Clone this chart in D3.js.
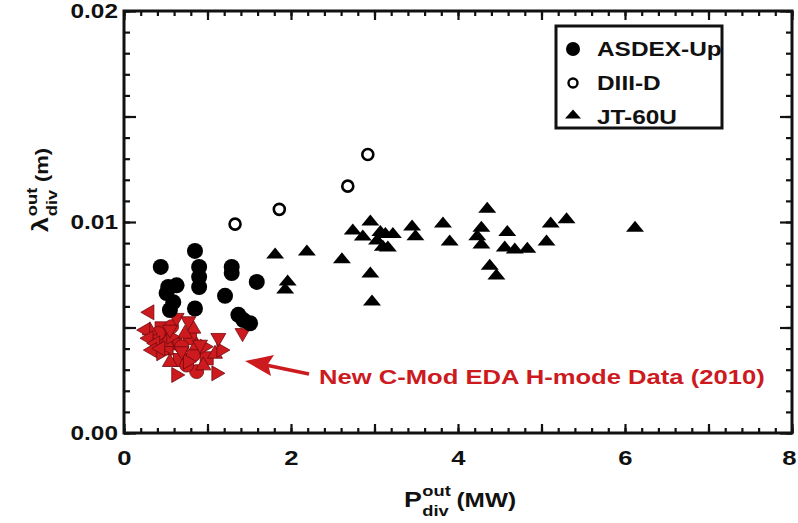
<!DOCTYPE html>
<html>
<head>
<meta charset="utf-8">
<script src="https://cdn.jsdelivr.net/npm/d3@7/dist/d3.min.js"></script>
<style>
  body { margin: 0; background: #fff; }
  text { font-family: "Liberation Sans", Arial, sans-serif; font-weight: bold; fill: #111; }
</style>
</head>
<body>
<svg id="chart" width="798" height="523"></svg>
<script>
// ---- data: [P_div_out (MW), lambda_div_out (m)] ----
const asdexUp = [
  [0.44,0.00787],[0.53,0.00692],[0.63,0.0070],[0.51,0.00663],[0.59,0.0062],[0.55,0.00583],
  [0.85,0.00863],[0.90,0.00787],[0.90,0.00740],[0.90,0.00692],[0.85,0.0059],
  [1.29,0.00787],[1.29,0.00758],[1.21,0.0065],[1.59,0.00716],
  [1.37,0.0056],[1.43,0.00535],[1.51,0.0052]
];
const diiiD = [[1.33,0.0099],[1.86,0.0106],[2.68,0.0117],[2.92,0.0132]];
const jt60u = [
  [1.81,0.00853],[2.19,0.00867],[2.61,0.0083],[1.96,0.00725],[1.93,0.00687],
  [2.95,0.0101],[2.74,0.00967],[2.95,0.00763],[2.97,0.0063],
  [2.86,0.00938],[3.07,0.0096],[3.03,0.0092],[3.10,0.0089],
  [3.13,0.0095],[3.22,0.0095],[3.16,0.00886],[3.45,0.00986],[3.49,0.0094],
  [3.82,0.0100],[3.90,0.00915],[4.35,0.0107],[4.28,0.0098],[4.23,0.0094],[4.28,0.0090],
  [4.59,0.0096],[4.56,0.00886],[4.68,0.00877],[4.83,0.0088],[4.38,0.0080],[4.46,0.00754],
  [5.11,0.0100],[5.30,0.0102],[5.06,0.00915],[6.12,0.0098]
];
// C-Mod EDA H-mode 2010, by marker shape
const cmodLeft   = [[0.28,0.00572],[0.23,0.00488],[0.27,0.00449],[0.35,0.00425],[0.31,0.00393],[0.41,0.00401]];
const cmodDown   = [[0.63,0.00536],[0.77,0.00520],[1.42,0.00464],[1.13,0.00441],[0.55,0.00480],[0.91,0.00409],[0.69,0.00378]];
const cmodRight  = [[0.65,0.00275],[1.13,0.00283],[1.19,0.00393],[0.99,0.00409],[0.47,0.00378],[0.79,0.00338],[0.59,0.00456]];
const cmodUp     = [[0.83,0.00504],[0.31,0.00496],[0.73,0.00480],[0.51,0.00441],[0.87,0.00425],[1.09,0.00385],[0.55,0.00346],[0.95,0.00330]];
const cmodCircle = [[0.87,0.00291],[0.57,0.00504],[0.47,0.00441],[0.69,0.00409],[0.83,0.00370],[0.41,0.00472],[0.75,0.00322]];
const cmodSquare = [[0.45,0.00496],[0.37,0.00456],[0.61,0.00425],[0.51,0.00401],[0.79,0.00449],[0.67,0.00346],[0.99,0.00354]];

const xLabels = [0, 2, 4, 6, 8];
const yLabels = [0, 0.01, 0.02];
const legendNames = ['ASDEX-Up', 'DIII-D', 'JT-60U'];
const noteText = 'New C-Mod EDA H-mode Data (2010)';

const red = '#cc1a1f';
const sx = 1.22; // glyphs in the figure are stretched sideways

const svg = d3.select('#chart');
const x = d3.scaleLinear().domain([0, 8]).range([124, 792]);
const y = d3.scaleLinear().domain([0, 0.02]).range([433, 11]);

// ---- axes, ticks pointing inward on all four sides ----
function styleAxis(g) {
  g.select('.domain').remove();
  g.selectAll('line').attr('stroke', '#111').attr('stroke-width', 2.2);
  g.selectAll('text').attr('font-size', 20).attr('fill', '#111');
}
const xMinor = d3.range(0, 8.001, 0.2);
const xMajor = d3.range(0, 9, 1);
const yMinor = d3.range(0, 0.02001, 0.001);
const yMajor = [0, 0.005, 0.01, 0.015, 0.02];

svg.append('g').attr('transform', 'translate(0,433)')
  .call(d3.axisBottom(x).tickValues(xMinor).tickSize(-5).tickFormat('')).call(styleAxis);
svg.append('g').attr('transform', 'translate(0,433)')
  .call(d3.axisBottom(x).tickValues(xMajor).tickSize(-9).tickPadding(17)
    .tickFormat(d => xLabels.includes(d) ? d : '')).call(styleAxis)
  .selectAll('text').attr('font-size', 21).attr('transform', `scale(${sx},1)`)
  .attr('x', d => d === 8 ? -2.5 : 0); // last label sits on the page edge
svg.append('g').attr('transform', 'translate(0,11)')
  .call(d3.axisTop(x).tickValues(xMinor).tickSize(-5).tickFormat('')).call(styleAxis);
svg.append('g').attr('transform', 'translate(0,11)')
  .call(d3.axisTop(x).tickValues(xMajor).tickSize(-9).tickFormat('')).call(styleAxis);

svg.append('g').attr('transform', 'translate(124,0)')
  .call(d3.axisLeft(y).tickValues(yMinor).tickSize(-6).tickFormat('')).call(styleAxis);
svg.append('g').attr('transform', 'translate(124,0)')
  .call(d3.axisLeft(y).tickValues(yMajor).tickSize(-12).tickPadding(5)
    .tickFormat(d => yLabels.some(v => Math.abs(v - d) < 1e-9) ? d3.format('.2f')(d) : '')).call(styleAxis)
  .selectAll('text').attr('transform', `scale(${sx},1)`).attr('x', -6 / sx);
svg.append('g').attr('transform', 'translate(792,0)')
  .call(d3.axisRight(y).tickValues(yMinor).tickSize(-6).tickFormat('')).call(styleAxis);
svg.append('g').attr('transform', 'translate(792,0)')
  .call(d3.axisRight(y).tickValues(yMajor).tickSize(-12).tickFormat('')).call(styleAxis);

svg.append('rect')
  .attr('x', x(0)).attr('y', y(0.02))
  .attr('width', x(8) - x(0)).attr('height', y(0) - y(0.02))
  .attr('fill', 'none').attr('stroke', '#111').attr('stroke-width', 3);

// ---- axis titles ----
const xt = svg.append('g').attr('transform', `translate(404,507) scale(${sx},1)`);
xt.append('text').attr('font-size', 22).text('P');
xt.append('text').attr('x', 15).attr('y', -11).attr('font-size', 15).text('out');
xt.append('text').attr('x', 15).attr('y', 9).attr('font-size', 15).text('div');
xt.append('text').attr('x', 43).attr('font-size', 20).text('(MW)');

const yt = svg.append('g').attr('transform', `translate(48,232) rotate(-90) scale(${sx},1)`);
yt.append('text').attr('font-size', 22).text('λ');
yt.append('text').attr('x', 13).attr('y', -11).attr('font-size', 15).text('out');
yt.append('text').attr('x', 13).attr('y', 9).attr('font-size', 15).text('div');
yt.append('text').attr('x', 41).attr('font-size', 18).text('(m)');

// ---- marker shapes ----
const triUp = (w, h) => `M${-w/2},${h/2}L${w/2},${h/2}L0,${-h/2}Z`;
const plot = svg.append('g');

function redTriangles(data, angle) {
  plot.selectAll(null).data(data).enter().append('path')
    .attr('d', triUp(15, 13))
    .attr('transform', d => `translate(${x(d[0])},${y(d[1])}) rotate(${angle})`)
    .attr('fill', red).attr('stroke', '#6e0a0c').attr('stroke-width', 0.8);
}
plot.selectAll(null).data(cmodSquare).enter().append('rect')
  .attr('x', d => x(d[0]) - 6.5).attr('y', d => y(d[1]) - 6.5)
  .attr('width', 13).attr('height', 13)
  .attr('fill', red).attr('stroke', '#6e0a0c').attr('stroke-width', 0.8);
plot.selectAll(null).data(cmodCircle).enter().append('circle')
  .attr('cx', d => x(d[0])).attr('cy', d => y(d[1])).attr('r', 7)
  .attr('fill', red).attr('stroke', '#6e0a0c').attr('stroke-width', 0.8);
redTriangles(cmodUp, 0);
redTriangles(cmodRight, 90);
redTriangles(cmodDown, 180);
redTriangles(cmodLeft, 270);

plot.selectAll(null).data(asdexUp).enter().append('circle')
  .attr('cx', d => x(d[0])).attr('cy', d => y(d[1])).attr('r', 8)
  .attr('fill', '#000');
plot.selectAll(null).data(diiiD).enter().append('circle')
  .attr('cx', d => x(d[0])).attr('cy', d => y(d[1])).attr('r', 5.5)
  .attr('fill', '#fff').attr('stroke', '#000').attr('stroke-width', 2.6);
plot.selectAll(null).data(jt60u).enter().append('path')
  .attr('d', triUp(18, 11))
  .attr('transform', d => `translate(${x(d[0])},${y(d[1])})`)
  .attr('fill', '#000');

// ---- legend ----
const lg = svg.append('g').attr('transform', 'translate(556,26)');
lg.append('rect').attr('width', 166).attr('height', 102)
  .attr('fill', '#fff').attr('stroke', '#111').attr('stroke-width', 3);
lg.append('circle').attr('cx', 17).attr('cy', 23).attr('r', 7).attr('fill', '#000');
lg.append('circle').attr('cx', 17).attr('cy', 57).attr('r', 4.5)
  .attr('fill', '#fff').attr('stroke', '#000').attr('stroke-width', 2.4);
lg.append('path').attr('d', triUp(16, 9)).attr('transform', 'translate(17,88)').attr('fill', '#000');
legendNames.forEach((n, i) => {
  lg.append('text').attr('transform', `translate(41,${30 + i * 34}) scale(${sx},1)`)
    .attr('font-size', 20).text(n);
});

// ---- annotation ----
svg.append('line').attr('x1', 309).attr('y1', 374).attr('x2', 256).attr('y2', 363)
  .attr('stroke', red).attr('stroke-width', 3.5);
svg.append('path').attr('d', 'M245,361L274,355L268,364L271,376Z').attr('fill', red);
svg.append('text').attr('transform', `translate(319,384) scale(${sx},1)`)
  .attr('font-size', 21).style('fill', red).text(noteText);
</script>
</body>
</html>
